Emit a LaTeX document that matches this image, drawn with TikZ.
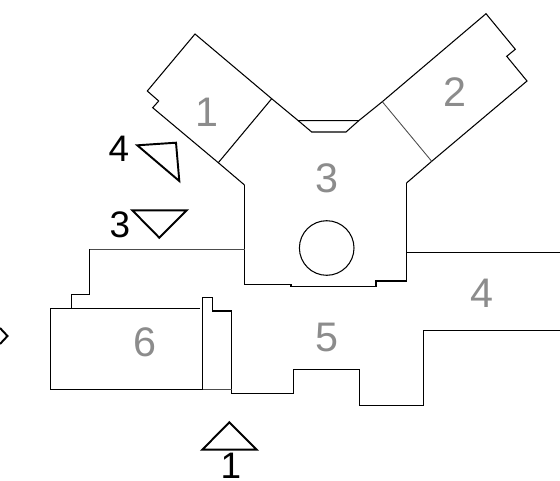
\documentclass[tikz,border=0pt]{standalone}
\usepackage{fontspec}
\setmainfont{Liberation Sans}
\definecolor{labelgray}{gray}{0.55}
\tikzset{
	wall/.style={line width=0.6pt},
	thinwall/.style={line width=0.5pt,black!70},
	marker/.style={line width=1.1pt,line join=miter},
	roomlabel/.style={text=labelgray,font=\fontsize{23.5}{23.5}\selectfont,inner sep=0pt},
	viewlabel/.style={font=\fontsize{21}{21}\selectfont,inner sep=0pt}
}
\begin{document}
\begin{tikzpicture}[x=0.02cm,y=-0.02cm]
	\useasboundingbox (0,0) rectangle (560,480);
	\draw[wall] (244.5,185) -- (218.3,162.7) -- (152.7,107.7) -- (158.7,101) -- (147.3,91) -- (195,34) -- (271.7,98.7) -- (298.3,120.7) -- (358.7,120.7) -- (382.3,101.7) -- (486,13.7) -- (515.3,49.3) -- (506.7,56.3) -- (527,81) -- (431.7,161.3) -- (406.5,183); %wings
	\draw[wall] (218.3,162.7) -- (271.7,98.7); %wing 1
	\draw[thinwall] (382.3,101.7) -- (431.7,161.3); %wing 2
	\draw[wall] (298.3,120.7) -- (311.7,132) -- (346,132) -- (358.7,120.7); %porch
	\draw[wall] (244.5,185) -- (244.5,284.7) -- (291,284.7) -- (291,286.7) -- (376,286.7) -- (376,281) -- (406.5,281) -- (406.5,183); %room 3
	\draw[wall] (326.7,248) circle (27.3);
	\draw[line width=1pt] (406.5,252.5) -- (560,252.5); %room 4
	\draw[wall] (560,330.7) -- (423.5,330.7) -- (423.5,405.7) -- (359.7,405.7) -- (359.7,369.7) -- (293.5,369.7) -- (293.5,393.7) -- (231.7,393.7) -- (231.7,311) -- (212.7,311) -- (212.7,297.7) -- (202.7,297.7) -- (202.7,389.3); %room 5
	\draw[thinwall] (244.5,249) -- (89.5,249);
	\draw[wall] (89.5,249) -- (89.5,294.5) -- (71.7,294.5) -- (71.7,308.3); %step
	\draw[wall] (200,308.3) -- (50.7,308.3) -- (50.7,389.3) -- (202.7,389.3); %room 6
	\draw[thinwall] (202.7,389.3) -- (231.7,389.3);
	\draw[marker] (137.3,145.3) -- (176,142.7) -- (179.3,181) -- cycle; %view 4
	\draw[marker] (132.3,210.3) -- (186.7,210.3) -- (159.3,237.7) -- cycle; %view 3
	\draw[marker] (229.3,422.3) -- (202.3,449.7) -- (256.7,449.7) -- cycle; %view 1
	\draw[marker] (0,328) -- (7.5,336) -- (0,344); %view 2
	\node[roomlabel] (room1) at (207,112) {1};
	\node[roomlabel] (room2) at (455,92) {2};
	\node[roomlabel] (room3) at (327,178) {3};
	\node[roomlabel] (room4) at (482,293) {4};
	\node[roomlabel] (room5) at (327,337) {5};
	\node[roomlabel] (room6) at (145,342) {6};
	\node[viewlabel] (view4) at (119,149) {4};
	\node[viewlabel] (view3) at (120,225) {3};
	\node[viewlabel] (view1) at (231,466) {1};
\end{tikzpicture}
\end{document}
